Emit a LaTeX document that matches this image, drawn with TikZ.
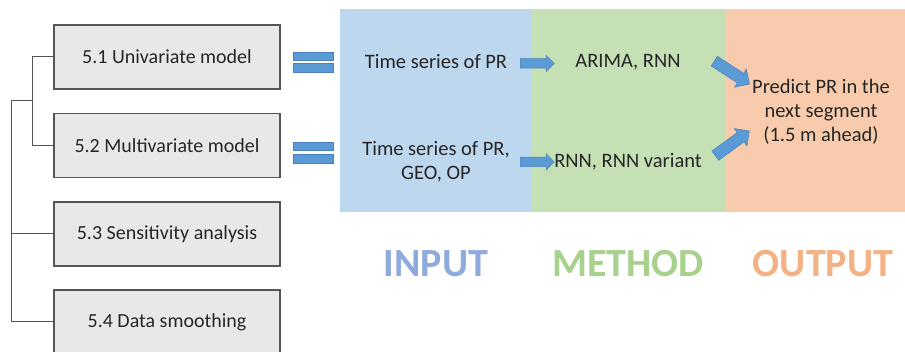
\documentclass[tikz,border=0pt]{standalone}
\usepackage{fontspec}
\setmainfont{Carlito}
\usetikzlibrary{shapes.arrows}
\definecolor{pblue}{HTML}{BDD7EE}
\definecolor{pgreen}{HTML}{C5E0B4}
\definecolor{porange}{HTML}{F8CBAD}
\definecolor{arrfill}{HTML}{5B9BD5}
\definecolor{arrline}{HTML}{4A80BD}
\definecolor{inc}{HTML}{8FAADC}
\definecolor{mec}{HTML}{A9D18E}
\definecolor{ouc}{HTML}{F4B183}
\definecolor{boxfill}{HTML}{E8E8E8}
\definecolor{boxline}{HTML}{555555}
\definecolor{txt}{HTML}{262626}
\tikzset{
  box/.style={draw=boxline, fill=boxfill, line width=1.2pt, minimum width=226pt, minimum height=64pt, inner sep=0pt, font=\fontsize{20}{23}\selectfont, text=txt},
  tree/.style={draw=boxline, line width=1pt},
  lbl/.style={font=\fontsize{20.5}{24}\selectfont, text=txt, align=center, inner sep=0pt},
  barr/.style={single arrow, fill=arrfill, draw=arrline, line width=0.5pt, minimum width=0pt, inner xsep=0pt, inner ysep=4.5pt, single arrow head extend=3.5pt, single arrow head indent=0pt},
  darr/.style={barr, inner ysep=5.5pt, single arrow head extend=5pt},
  eqbar/.style={fill=arrfill, draw=arrline, line width=0.4pt, minimum width=40pt, minimum height=8.5pt, inner sep=0pt},
  big/.style={font=\bfseries\fontsize{40}{44}\selectfont}
}
\begin{document}
\begin{tikzpicture}[x=1pt,y=-1pt]
\useasboundingbox (0,0) rectangle (905,352);
\fill[white] (0,0) rectangle (905,352);
% panels
\fill[pblue] (340,9) rectangle (532,212);
\fill[pgreen] (532,9) rectangle (725,212);
\fill[porange] (725,9) rectangle (905,212);
% boxes
\node[box] (b1) at (167,57) {5.1 Univariate model};
\node[box] (b2) at (167,145.5) {5.2 Multivariate model};
\node[box] (b3) at (167,234) {5.3 Sensitivity analysis};
\node[box] (b4) at (167,322) {5.4 Data smoothing};
% tree
\draw[tree] (b1.west) -- ++(-21,0) coordinate (j1) -- (j1 |- b2.west) -- (b2.west);
\coordinate (jm) at (33,101);
\draw[tree] (jm) -- ++(-22,0) coordinate (r) -- (r |- b4.west) -- (b4.west);
\draw[tree] (r |- b3.west) -- (b3.west);
% equal signs
\node[eqbar] (e1a) at (313,56) {};
\node[eqbar] (e1b) at (313,67.5) {};
\node[eqbar] (e2a) at (313,146) {};
\node[eqbar] (e2b) at (313,158.5) {};
% texts
\node[lbl] (in1) at (436,62) {Time series of PR};
\node[lbl] (in2) at (436,162) {Time series of PR,\\GEO, OP};
\node[lbl] (m1) at (628,62) {ARIMA, RNN};
\node[lbl] (m2) at (628,162) {RNN, RNN variant};
\node[lbl] (out) at (821,112) {Predict PR in the\\next segment\\(1.5 m ahead)};
% block arrows
\node[barr, minimum height=34pt] (a1) at (535,63.5) {};
\node[barr, minimum height=34pt] (a2) at (535,162) {};
\node[darr, minimum height=42pt, rotate=-33] (a3) at (729.5,71) {};
\node[darr, minimum height=42pt, rotate=36] (a4) at (730,145) {};
% big labels
\node[big, text=inc] (tin) at (436,263.5) {INPUT};
\node[big, text=mec] (tme) at (628,263.5) {METHOD};
\node[big, text=ouc] (tou) at (823,263.5) {OUTPUT};
\end{tikzpicture}
\end{document}
